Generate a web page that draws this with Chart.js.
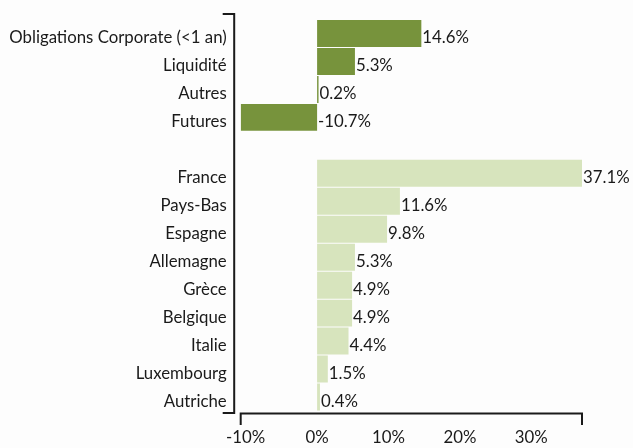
<!DOCTYPE html>
<html>
<head>
<meta charset="utf-8">
<script src="https://cdn.jsdelivr.net/npm/chart.js@4.4.1/dist/chart.umd.min.js"></script>
<style>
html,body{margin:0;padding:0;background:#fdfdfd;}
#wrap{width:633px;height:448px;position:relative;}
</style>
</head>
<body>
<div id="wrap"><canvas id="c" width="633" height="448"></canvas></div>
<script>
const categories = ["Obligations Corporate (<1 an)", "Liquidité", "Autres", "Futures", "", "France", "Pays-Bas", "Espagne", "Allemagne", "Grèce", "Belgique", "Italie", "Luxembourg", "Autriche"];
const values = [14.6, 5.3, 0.2, -10.7, null, 37.1, 11.6, 9.8, 5.3, 4.9, 4.9, 4.4, 1.5, 0.4];
const groupColors = ["#77933C", "#77933C", "#77933C", "#77933C", null, "#D7E4BD", "#D7E4BD", "#D7E4BD", "#D7E4BD", "#D7E4BD", "#D7E4BD", "#D7E4BD", "#D7E4BD", "#D7E4BD"];
const tickValues = [-10, 0, 10, 20, 30];

const FONT = {family: "Lato", size: 16.8};
const numeric = values.filter(v => v !== null);

const bracketPlugin = {
  id: 'brackets',
  afterDraw(chart) {
    const {ctx, chartArea} = chart;
    ctx.save();
    ctx.strokeStyle = '#1a1a1a';
    ctx.lineWidth = 2;
    const yb = chartArea.bottom + 2.5;
    ctx.beginPath();
    ctx.moveTo(chartArea.left, yb + 11.5);
    ctx.lineTo(chartArea.left, yb);
    ctx.lineTo(chartArea.right, yb);
    ctx.lineTo(chartArea.right, yb + 11.5);
    ctx.stroke();
    const xl = chartArea.left - 6.5;
    const yt = chartArea.top - 5.5;
    const ybot = chartArea.bottom + 2;
    ctx.beginPath();
    ctx.moveTo(xl - 11.5, yt);
    ctx.lineTo(xl, yt);
    ctx.lineTo(xl, ybot);
    ctx.lineTo(xl - 11.5, ybot);
    ctx.stroke();
    ctx.restore();
  }
};

const labelPlugin = {
  id: 'valueLabels',
  afterDatasetsDraw(chart) {
    const {ctx} = chart;
    const meta = chart.getDatasetMeta(0);
    const xs = chart.scales.x;
    ctx.save();
    ctx.font = FONT.size + 'px ' + FONT.family;
    ctx.fillStyle = '#1a1a1a';
    ctx.textAlign = 'left';
    ctx.textBaseline = 'middle';
    meta.data.forEach((bar, i) => {
      const v = values[i];
      if (v === null) return;
      const x = xs.getPixelForValue(Math.max(v, 0)) + 1;
      ctx.fillText(v.toFixed(1) + '%', x, bar.y + 4.5);
    });
    ctx.restore();
  }
};

new Chart(document.getElementById('c'), {
  type: 'bar',
  data: {
    labels: categories,
    datasets: [{
      data: values,
      backgroundColor: groupColors,
      borderWidth: 0,
      barPercentage: 0.965,
      categoryPercentage: 1.0
    }]
  },
  options: {
    indexAxis: 'y',
    responsive: false,
    animation: false,
    layout: {padding: {top: 19.5, right: 51, left: 0, bottom: 0}},
    plugins: {legend: {display: false}, tooltip: {enabled: false}},
    scales: {
      x: {
        min: Math.min(...numeric),
        max: Math.max(...numeric),
        afterBuildTicks: s => { s.ticks = tickValues.map(v => ({value: v})); },
        afterFit: s => { s.height = 37; s.paddingLeft = 0; s.paddingRight = 0; },
        grid: {display: false, drawTicks: false},
        border: {display: false},
        ticks: {
          font: FONT,
          color: '#1a1a1a',
          padding: 17,
          maxRotation: 0,
          autoSkip: false,
          callback: v => v + '%'
        }
      },
      y: {
        afterFit: s => { s.width = 240.7; s.paddingTop = 0; s.paddingBottom = 0; },
        grid: {display: false, drawTicks: false},
        border: {display: false},
        ticks: {
          font: FONT,
          color: '#1a1a1a',
          padding: 14,
          labelOffset: 4.5,
          autoSkip: false
        }
      }
    }
  },
  plugins: [bracketPlugin, labelPlugin]
});
</script>
</body>
</html>
